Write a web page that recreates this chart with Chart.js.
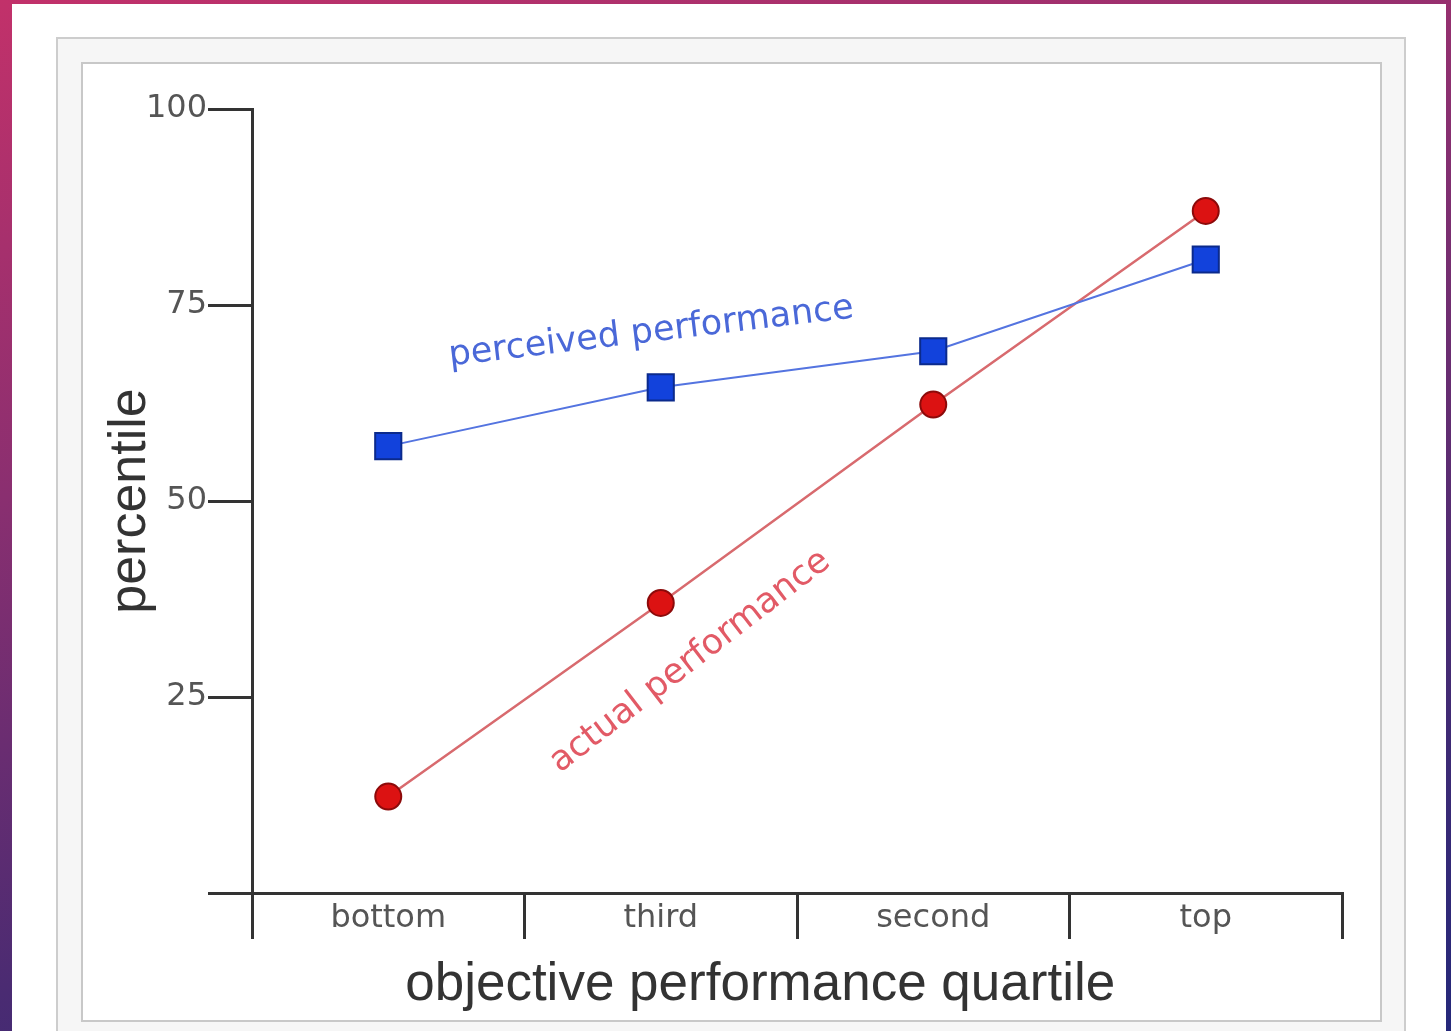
<!DOCTYPE html>
<html>
<head>
<meta charset="utf-8">
<script src="https://cdn.jsdelivr.net/npm/chart.js@4/dist/chart.umd.min.js"></script>
<style>
  html, body { margin: 0; padding: 0; width: 1451px; height: 1031px; overflow: hidden; }
  body { background: linear-gradient(165deg, #c2316a 0%, #8a2f70 35%, #4a2b72 70%, #25287a 100%); position: relative; }
  #white { position: absolute; left: 12px; top: 4px; width: 1434px; height: 1040px; background: #ffffff; }
  #outer { position: absolute; left: 56px; top: 37px; width: 1346px; height: 1010px; background: #f6f6f6; border: 2px solid #cdcdcd; }
  #inner { position: absolute; left: 81px; top: 62px; width: 1297px; height: 956px; background: #ffffff; border: 2px solid #c8c8c8; }
  #c { position: absolute; left: 0; top: 0; }
</style>
</head>
<body>
<div id="white"></div>
<div id="outer"></div>
<div id="inner"></div>
<canvas id="c" width="1451" height="1031"></canvas>
<script>
const categories = ['bottom', 'third', 'second', 'top'];
const perceived = [57.0, 64.5, 69.1, 80.8];
const actual = [12.3, 37.0, 62.3, 87.0];
const yTicks = [0, 25, 50, 75, 100];
const xTitle = 'objective performance quartile';
const yTitle = 'percentile';

const annotations = [
  { text: 'perceived performance', x: 0.965, y: 71.5, angle: -6.8, color: '#4a68d8' },
  { text: 'actual performance', x: 1.108, y: 29.5, angle: -37.5, color: '#e25a66' }
];

const annotationPlugin = {
  id: 'annot',
  afterDatasetsDraw(chart) {
    const ctx = chart.ctx;
    const xs = chart.scales.x, ys = chart.scales.y;
    const x0 = xs.getPixelForValue(0), x1 = xs.getPixelForValue(1);
    annotations.forEach(a => {
      const px = x0 + (x1 - x0) * a.x;
      const py = ys.getPixelForValue(a.y);
      ctx.save();
      ctx.translate(px, py);
      ctx.rotate(a.angle * Math.PI / 180);
      ctx.font = '35px "DejaVu Sans"';
      ctx.fillStyle = a.color;
      ctx.textAlign = 'center';
      ctx.textBaseline = 'middle';
      ctx.fillText(a.text, 0, 0);
      ctx.restore();
    });
  }
};

new Chart(document.getElementById('c'), {
  type: 'line',
  data: {
    labels: categories,
    datasets: [
      {
        label: 'perceived performance',
        data: perceived,
        borderColor: '#5474e0',
        borderWidth: 2,
        pointStyle: 'rect',
        pointRadius: 18.5,
        pointBackgroundColor: '#1242dc',
        pointBorderColor: '#0b2a8c',
        pointBorderWidth: 2,
        tension: 0
      },
      {
        label: 'actual performance',
        data: actual,
        borderColor: '#d86a6e',
        borderWidth: 2.5,
        pointStyle: 'circle',
        pointRadius: 13,
        pointBackgroundColor: '#dc1212',
        pointBorderColor: '#8c0a0a',
        pointBorderWidth: 2,
        tension: 0
      }
    ]
  },
  options: {
    responsive: false,
    animation: false,
    layout: { padding: { left: 0, right: 109, top: 109, bottom: 0 } },
    plugins: { legend: { display: false }, tooltip: { enabled: false } },
    scales: {
      x: {
        type: 'category',
        offset: true,
        grid: { display: true, offset: true, drawOnChartArea: false, drawTicks: true, tickLength: 46, color: '#333333', lineWidth: 3 },
        border: { display: true, color: '#333333', width: 3 },
        ticks: { color: '#555555', font: { family: '"DejaVu Sans"', size: 32 }, padding: -40, maxRotation: 0, autoSkip: false },
        title: { display: true, text: xTitle + '\u0020\u0020\u0020\u0020\u0020', color: '#333333', font: { family: '"Liberation Sans"', size: 53 }, padding: { top: 0, bottom: 14 } },
        afterFit(scale) { scale.height = 138; }
      },
      y: {
        min: 0, max: 100,
        afterBuildTicks(scale) { scale.ticks = yTicks.map(v => ({ value: v })); },
        grid: { display: true, drawOnChartArea: false, drawTicks: true, tickLength: 44, color: '#333333', lineWidth: 3 },
        border: { display: true, color: '#333333', width: 3 },
        ticks: { color: '#555555', font: { family: '"DejaVu Sans"', size: 32 }, padding: 1, callback: v => v === 0 ? '' : String(v) },
        title: { display: true, text: yTitle, color: '#333333', font: { family: '"Liberation Sans"', size: 52 }, padding: { top: 99, bottom: 0 } },
        afterFit(scale) { scale.width = 252; }
      }
    }
  },
  plugins: [annotationPlugin]
});
</script>
</body>
</html>
